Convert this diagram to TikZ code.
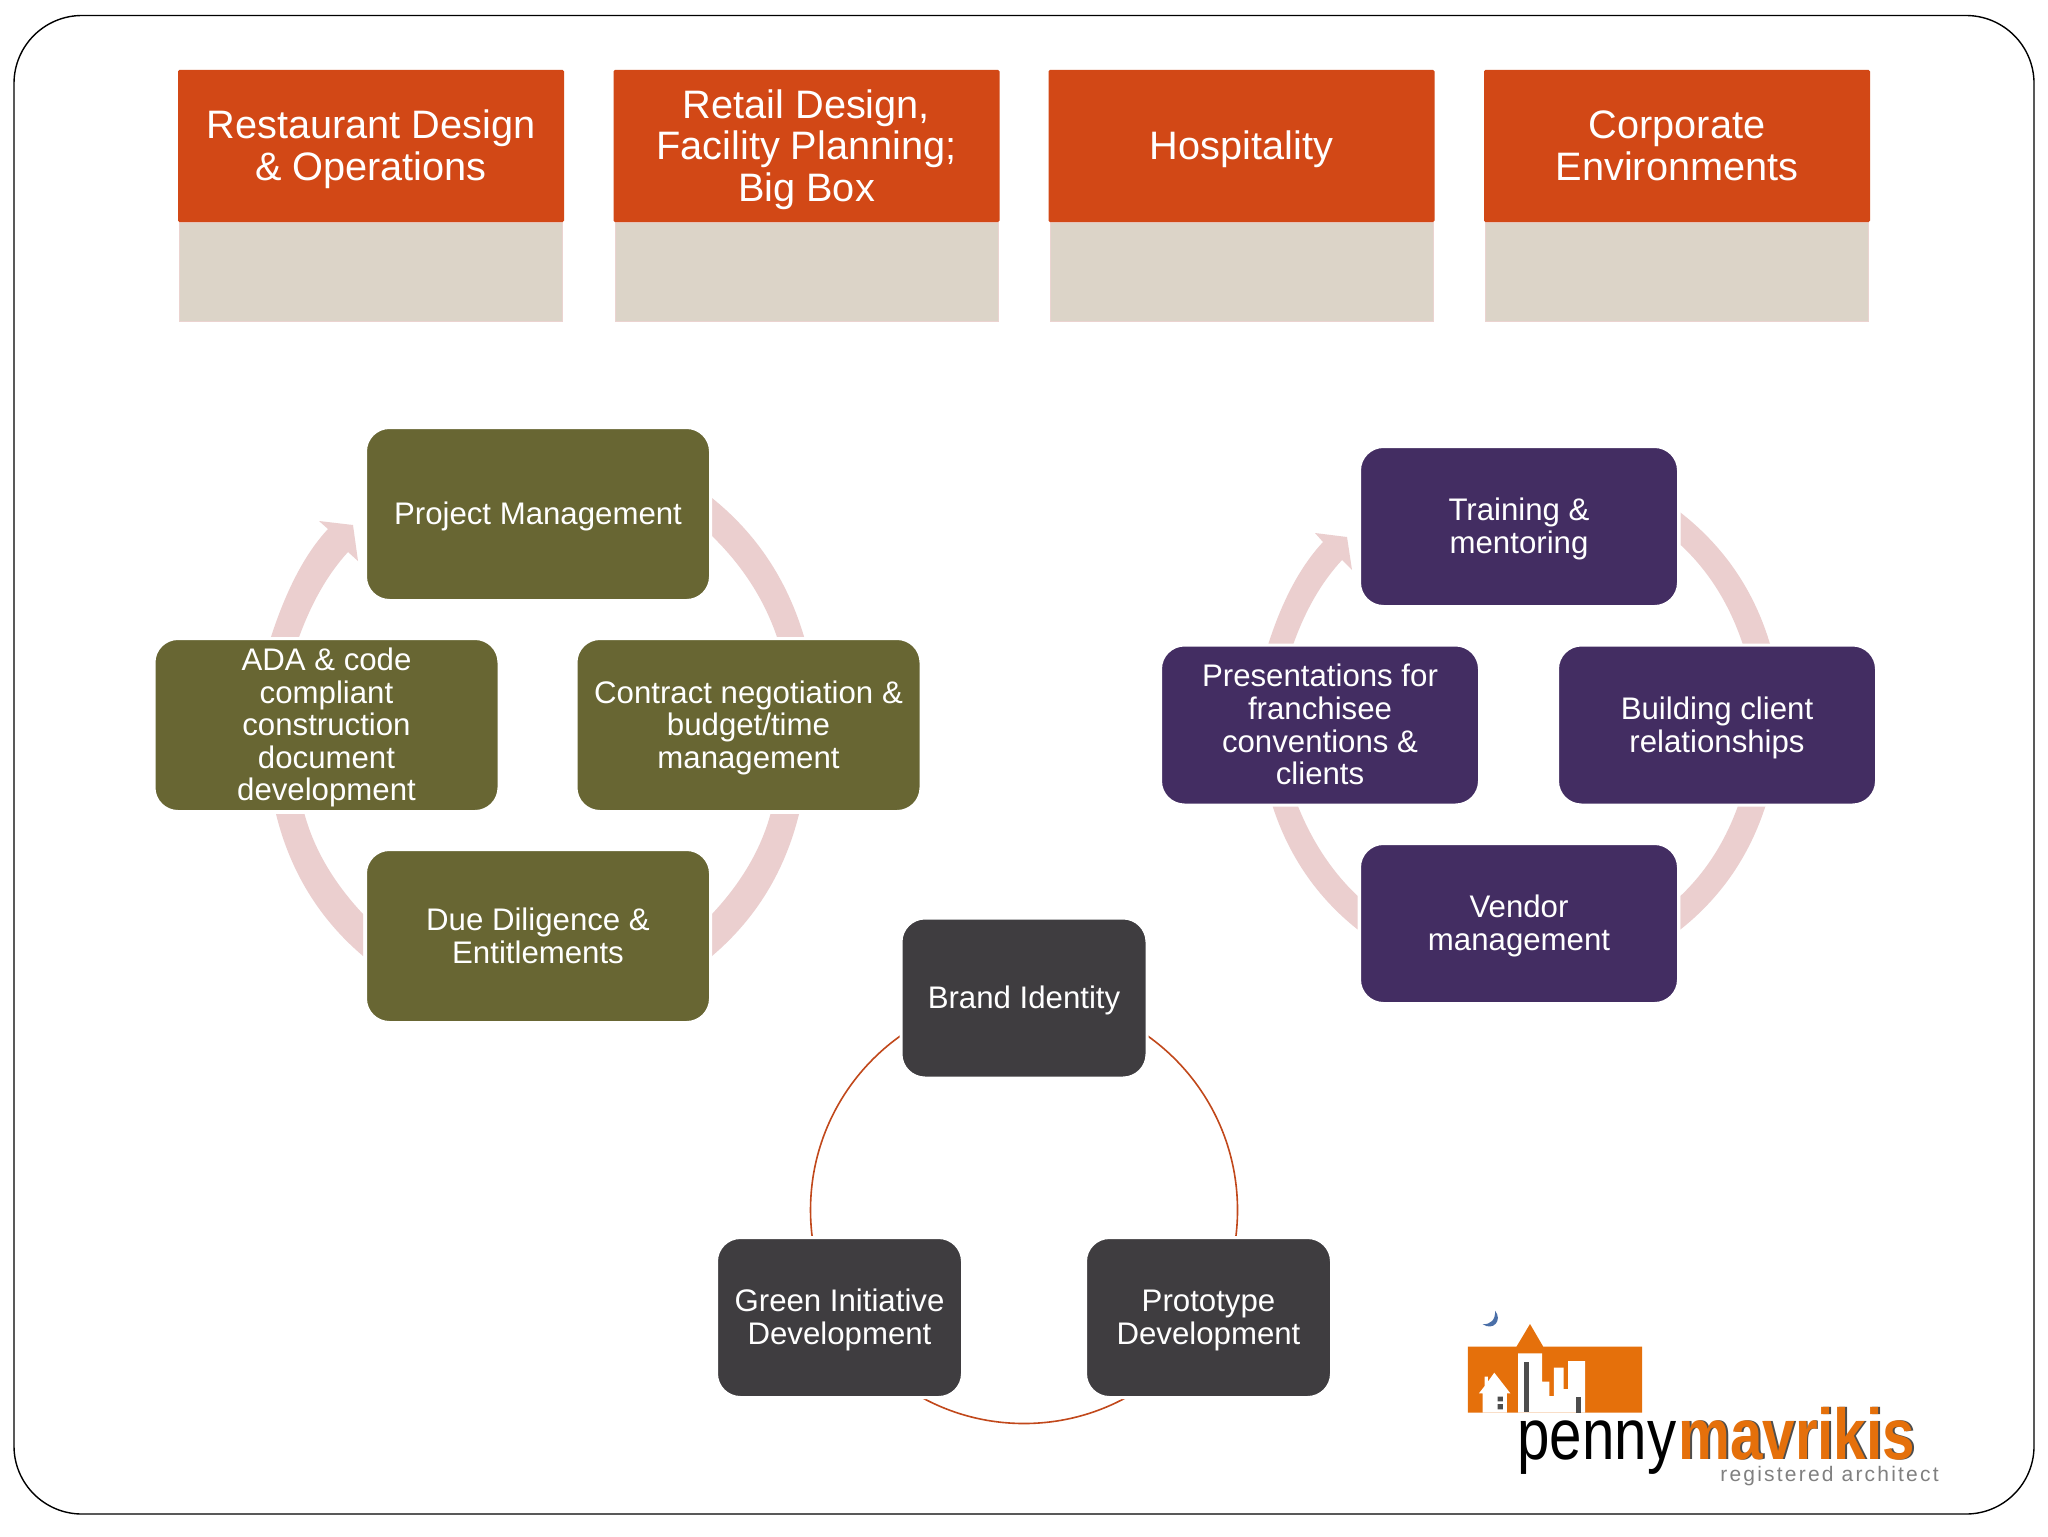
\documentclass[tikz,border=0pt]{standalone}
\usepackage{fontspec}
\usetikzlibrary{calc}
\setmainfont{Liberation Sans}
\definecolor{hdr}{HTML}{D24816}
\definecolor{bge}{HTML}{DCD4C8}
\definecolor{bgeb}{HTML}{EBD3D0}
\definecolor{olv}{HTML}{686633}
\definecolor{prp}{HTML}{432D62}
\definecolor{drk}{HTML}{3F3D40}
\definecolor{rng}{HTML}{EBCFCF}
\definecolor{thn}{HTML}{C1481B}
\definecolor{lgo}{HTML}{E5700B}
\definecolor{lgr}{HTML}{4D4D4D}
\definecolor{mn}{HTML}{4A6FA8}
\newcommand\hS{\rule{0pt}{17.95pt}}
\newcommand\sS{\rule{0pt}{14pt}}
\newcommand\hDp{\rule[-4.2pt]{0pt}{4.2pt}}
\newcommand\sDp{\rule[-3.3pt]{0pt}{3.3pt}}
\newcommand\qto[3]{.. controls ($(#1)!.6667!(#2)$) and ($(#3)!.6667!(#2)$) .. (#3)}
\tikzset{
  hdrbox/.style={fill=hdr,minimum width=193pt,minimum height=76pt,inner sep=0pt,align=center,text=white,rounded corners=.7pt,
    font=\fontsize{19.85}{20.85}\selectfont},
  bgebox/.style={fill=bge,draw=bgeb,line width=.5pt,minimum width=191.5pt,minimum height=49.5pt,inner sep=0pt},
  stage/.style={rounded corners=12pt,draw=white,line width=1.5pt,inner sep=0pt,align=center,text=white,
    font=\fontsize{15.6}{16.3}\selectfont},
  olvbox/.style={stage,fill=olv,minimum width=172.5pt,minimum height=86.5pt},
  prpbox/.style={stage,fill=prp,minimum width=159.5pt,minimum height=80pt},
  drkbox/.style={stage,fill=drk,minimum width=123pt,minimum height=80pt},
}
\begin{document}
\begin{tikzpicture}[x=.5pt,y=-.5pt]
\useasboundingbox (0,0) rectangle (2048,1536);
\fill[white] (0,0) rectangle (2048,1536);
\draw[black,line width=.7pt,rounded corners=34pt] (14,15.5) rectangle (2034,1514);
% headers
\foreach \n/\cx in {a/371,b/806.5,c/1241.5,d/1677}{
  \node[bgebox] (beige\n) at (\cx,271.5) {};
}
\node[hdrbox] (hA) at (371,146) {\hS Restaurant Design\\\& Operations};
\node[hdrbox] (hB) at (806.5,146) {\hS Retail Design,\\Facility Planning;\\Big Box};
\node[hdrbox] (hC) at (1241.5,146) {\hS Hospitality};
\node[hdrbox] (hD) at (1677,146) {\hS Corporate\\Environments\hDp};
% olive cycle
\fill[rng] (712,498) \qto{712,498}{780.1,552.7}{805,640} -- (778,640) \qto{778,640}{758.7,581.4}{712,536} -- cycle;
\fill[rng] (799,814) \qto{799,814}{777.8,900.1}{712,956} -- (712,914) \qto{712,914}{756.1,866.9}{770.5,814} -- cycle;
\fill[rng] (276,814) \qto{276,814}{297.2,900.1}{363,956} -- (363,914) \qto{363,914}{318.9,866.9}{304.5,814} -- cycle;
\fill[rng] (270,640) \qto{270,640}{293.7,565.6}{328,529} -- (319,521) -- (353,525) -- (358,561) -- (348,552) \qto{348,552}{317.4,585.4}{298,640} -- cycle;
\node[olvbox] (o1) at (538,514) {\sS Project Management};
\node[olvbox] (o2) at (748.5,725) {\sS Contract negotiation \&\\budget/time\\management};
\node[olvbox] (o3) at (538,936) {\sS Due Diligence \&\\Entitlements\sDp};
\node[olvbox] (o4) at (326.5,725) {\sS ADA \& code\\compliant\\construction\\document\\development};
% purple cycle
\fill[rng] (1680.7,512.7) \qto{1680.7,512.7}{1746.2,564.1}{1770,644} -- (1742.7,644) \qto{1742.7,644}{1722.7,584.1}{1680.7,545} -- cycle;
\fill[rng] (1765.8,805) \qto{1765.8,805}{1741.5,881}{1680.4,929.5} -- (1680.4,896) \qto{1680.4,896}{1718.9,859.4}{1738.3,805} -- cycle;
\fill[rng] (1272.2,805) \qto{1272.2,805}{1296.5,881}{1357.6,929.5} -- (1357.6,896) \qto{1357.6,896}{1319.1,859.4}{1297.5,805} -- cycle;
\fill[rng] (1268,645) \qto{1268,645}{1289.1,578.4}{1323,542} -- (1315,533) -- (1347,537) -- (1352,570) -- (1342,560) \qto{1342,560}{1311.3,593.1}{1293,645} -- cycle;
\node[prpbox] (p1) at (1519,526.5) {\sS Training \&\\mentoring};
\node[prpbox] (p2) at (1717,725) {\sS Building client\\relationships};
\node[prpbox] (p3) at (1519,923.5) {\sS Vendor\\management};
\node[prpbox] (p4) at (1320,725) {\sS Presentations for\\franchisee\\conventions \&\\clients\sDp};
% dark cycle
\coordinate (dc) at (1024,1210);
\draw[thn,line width=.8pt] (dc) circle[radius=213.5];
\node[drkbox] (d1) at (1024,998) {\sS Brand Identity};
\node[drkbox] (d2) at (1208.5,1317.5) {\sS Prototype\\Development};
\node[drkbox] (d3) at (839.5,1317.5) {\sS Green Initiative\\Development};
% logo
\begin{scope}[shift={(1420,1280)},x=.17857pt,y=-.16667pt]
\fill[lgo] (134,200) -- (270,200) -- (308,132) -- (345,200) -- (622,200) -- (622,398) -- (134,398) -- cycle;
\fill[white] (275,398) -- (275,220) -- (342,220) -- (342,305) -- (362,305) -- (362,348) -- (375,348) -- (375,263) -- (402,263) -- (402,327) -- (415,327) -- (415,243) -- (462,243) -- (462,398) -- cycle;
\fill[white] (175,398) -- (175,340) -- (165,340) -- (181,318) -- (181,290) -- (190,290) -- (190,305) -- (208,278) -- (253,340) -- (243,340) -- (243,398) -- cycle;
\fill[lgr] (217,350) rectangle (232,364) (217,372) rectangle (232,388);
\fill[lgr] (292,245) rectangle (304,395);
\fill[lgr] (438,350) rectangle (452,398);
\fill[mn] (210,92) .. controls (232,120) and (205,155) .. (175,132) .. controls (198,135) and (212,118) .. (210,92) -- cycle;
\end{scope}
\node[anchor=base west,inner sep=0pt,text=black,xscale=.81,transform shape,font=\fontsize{36}{36}\selectfont] (lp) at (1517,1459) {penny};
\node[anchor=base west,inner sep=0pt,text=lgo,xscale=.81,transform shape,font=\fontsize{36}{36}\bfseries\selectfont] (lm) at (1678,1459) {\rlap{\kern1.2pt\textcolor{lgr}{mavrikis}}mavrikis};
\node[anchor=base west,inner sep=0pt,text=gray,font=\fontsize{10.5}{10.5}\selectfont\addfontfeature{LetterSpace=10.5}] (lr) at (1720,1481) {registered architect};
\end{tikzpicture}
\end{document}
